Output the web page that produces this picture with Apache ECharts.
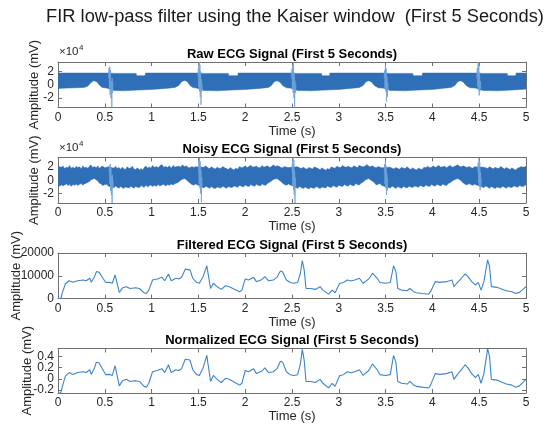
<!DOCTYPE html>
<html>
<head>
<meta charset="utf-8">
<script src="https://cdn.jsdelivr.net/npm/echarts@6/dist/echarts.min.js"></script>
<style>
html, body { margin: 0; padding: 0; background: #fff; }
#chart { width: 554px; height: 424px; }
</style>
</head>
<body>
<div id="chart"></div>
<script>
// ---------- signal data (time in s, amplitude in mV) ----------

// Raw ECG: envelope of the dense mains-like oscillation, plus the QRS bursts
const rawUpper = [
  [0.00, 17500], [0.54, 17500], [0.60, 17000], [0.835, 17000], [0.84, 13500], [0.93, 13500],
  [0.935, 17500], [1.50, 17500], [1.56, 17000], [1.82, 17000], [1.825, 13500], [1.92, 13500],
  [1.925, 17500], [2.50, 17500], [2.56, 17000], [2.815, 17000], [2.82, 13500], [2.90, 13500],
  [2.905, 17500], [3.48, 17500], [3.54, 17000], [3.79, 17000], [3.795, 13500], [3.89, 13500],
  [3.895, 17500], [4.48, 17500], [4.54, 17000], [4.80, 17000], [4.805, 13500], [4.89, 13500],
  [4.895, 17500], [5.00, 17500]
];
const rawLower = [
  [0.00, -5500], [0.10, -5000], [0.20, -4500], [0.28, -4000], [0.32, -2000], [0.35, 3000],
  [0.38, 6000], [0.41, 5000], [0.44, 0], [0.47, -4000], [0.52, -5000],
  [0.60, -8500], [0.70, -9000], [0.85, -8000], [1.00, -7000], [1.15, -5500], [1.25, -4000],
  [1.29, -1000], [1.32, 4500], [1.35, 6500], [1.38, 5000], [1.41, -1000], [1.44, -4000], [1.48, -5000],
  [1.56, -8500], [1.70, -9000], [1.85, -8000], [2.00, -7000], [2.15, -5500], [2.25, -4000],
  [2.28, -1000], [2.31, 4500], [2.34, 6000], [2.37, 4000], [2.40, -1000], [2.44, -4500], [2.48, -5000],
  [2.56, -8500], [2.70, -9000], [2.85, -8000], [3.00, -7000], [3.12, -5500], [3.22, -4000],
  [3.26, -1000], [3.29, 4500], [3.32, 6000], [3.35, 4000], [3.38, -1000], [3.42, -4500], [3.47, -5000],
  [3.55, -8500], [3.70, -9000], [3.85, -8000], [4.00, -7000], [4.10, -5500], [4.20, -4000],
  [4.24, -1000], [4.27, 4500], [4.30, 6000], [4.33, 4000], [4.36, -1000], [4.40, -4500], [4.46, -5000],
  [4.54, -8500], [4.70, -9000], [4.85, -8000], [4.95, -7000], [5.00, -6500]
];
const rawBursts = [
  [[0.540, 10000], [0.545, 25000], [0.549, -5000], [0.553, 27000], [0.557, -15000], [0.561, 22000],
   [0.566, -20000], [0.570, 5000], [0.575, -34000], [0.579, 10000], [0.583, -12000], [0.588, 3000]],
  [[1.495, 12000], [1.500, 26000], [1.504, -4000], [1.508, 33000], [1.512, -10000], [1.516, 30000],
   [1.520, -18000], [1.524, 20000], [1.528, -30000], [1.532, 8000], [1.537, -10000], [1.542, 2000]],
  [[2.495, 10000], [2.500, 24000], [2.504, -6000], [2.508, 30000], [2.512, -12000], [2.516, 34000],
   [2.520, -20000], [2.524, 18000], [2.528, -34000], [2.532, 6000], [2.537, -12000], [2.542, 2000]],
  [[3.485, 10000], [3.490, 22000], [3.494, -5000], [3.498, 29000], [3.502, -10000], [3.506, 25000],
   [3.510, -25000], [3.514, 12000], [3.518, -18000], [3.523, 3000], [3.528, -8000]],
  [[4.475, 10000], [4.480, 25000], [4.484, -3000], [4.488, 34000], [4.492, -8000], [4.496, 30000],
   [4.500, -16000], [4.504, 18000], [4.508, -10000], [4.513, 5000], [4.518, -5000]]
];

// Noisy ECG: ragged envelope of the noise band, plus the QRS bursts
const noisyUpper = [
  [0.00, 19000], [0.02, 20500], [0.035, 18000], [0.05, 21500], [0.07, 17500], [0.09, 19500],
  [0.11, 18500], [0.125, 22000], [0.14, 18000], [0.16, 19500], [0.18, 17500], [0.195, 21000],
  [0.21, 19000], [0.23, 20000], [0.25, 17000], [0.265, 21500], [0.28, 18500], [0.30, 19500],
  [0.32, 18000], [0.335, 20500], [0.35, 23000], [0.37, 19000], [0.39, 20500], [0.41, 18500],
  [0.425, 21500], [0.44, 17500], [0.46, 20000], [0.48, 21000], [0.50, 18500], [0.52, 19500],
  [0.54, 20000], [0.60, 18000], [0.615, 21000], [0.63, 17500], [0.65, 19000], [0.67, 16500],
  [0.685, 19500], [0.70, 17500], [0.72, 16000], [0.74, 20000], [0.76, 17500], [0.78, 18500],
  [0.795, 21000], [0.81, 17000], [0.83, 16000], [0.85, 18500], [0.87, 15500], [0.89, 17500],
  [0.905, 15000], [0.92, 19000], [0.94, 21000], [0.96, 18000], [0.975, 20000], [0.99, 18000],
  [1.01, 22000], [1.03, 19000], [1.05, 20500], [1.07, 18500], [1.09, 21500], [1.11, 23500],
  [1.13, 19500], [1.15, 20500], [1.17, 19000], [1.19, 21500], [1.21, 18000], [1.23, 22000],
  [1.25, 19500], [1.27, 20500], [1.29, 21000], [1.31, 19500], [1.33, 23000], [1.35, 20000],
  [1.37, 21500], [1.39, 19000], [1.41, 18500], [1.43, 20500], [1.45, 19000], [1.47, 20000],
  [1.56, 19500], [1.58, 21500], [1.60, 18500], [1.62, 17500], [1.64, 20000], [1.66, 18000],
  [1.68, 17000], [1.70, 19500], [1.72, 18000], [1.74, 17500], [1.76, 20500], [1.78, 18500],
  [1.80, 17500], [1.82, 16000], [1.84, 19000], [1.86, 17000], [1.88, 15500], [1.90, 18000],
  [1.92, 16500], [1.94, 20500], [1.96, 18500], [1.98, 19500], [2.00, 21500], [2.02, 19000],
  [2.04, 20500], [2.06, 22500], [2.08, 19500], [2.10, 20000], [2.12, 21000], [2.14, 19000],
  [2.16, 18500], [2.18, 22000], [2.20, 19500], [2.22, 20500], [2.24, 21500], [2.26, 19000],
  [2.28, 20000], [2.30, 23000], [2.32, 20500], [2.34, 21500], [2.36, 21000], [2.38, 19000],
  [2.40, 18500], [2.42, 20500], [2.44, 19500], [2.46, 19000], [2.56, 20000], [2.58, 18500],
  [2.60, 17500], [2.62, 19500], [2.64, 17500], [2.66, 16500], [2.68, 19000], [2.70, 18000],
  [2.72, 17000], [2.74, 20000], [2.76, 18500], [2.78, 17500], [2.80, 15500], [2.82, 18500],
  [2.84, 16500], [2.86, 15000], [2.88, 17500], [2.90, 16000], [2.92, 20000], [2.94, 18500],
  [2.96, 18000], [2.98, 21000], [3.00, 19500], [3.02, 19000], [3.04, 22000], [3.06, 20000],
  [3.08, 19500], [3.10, 21000], [3.12, 19500], [3.14, 18500], [3.16, 21500], [3.18, 20000],
  [3.20, 19000], [3.22, 22500], [3.24, 20500], [3.26, 20000], [3.28, 21000], [3.30, 23500],
  [3.32, 21000], [3.34, 20000], [3.36, 21500], [3.38, 19500], [3.40, 18500], [3.42, 20500],
  [3.44, 19500], [3.46, 18500], [3.55, 19500], [3.57, 18000], [3.59, 17000], [3.61, 19000],
  [3.63, 17500], [3.65, 16500], [3.67, 19500], [3.69, 18000], [3.71, 17500], [3.73, 20000],
  [3.75, 17500], [3.77, 16000], [3.79, 18500], [3.81, 16500], [3.83, 15500], [3.85, 18000],
  [3.87, 17000], [3.89, 16000], [3.91, 19500], [3.93, 18500], [3.95, 21000], [3.97, 18500],
  [3.99, 19500], [4.01, 21500], [4.03, 19000], [4.05, 20500], [4.07, 22000], [4.09, 19500],
  [4.11, 20000], [4.13, 21000], [4.15, 18500], [4.17, 20500], [4.19, 22000], [4.21, 19500],
  [4.23, 20000], [4.25, 21500], [4.27, 23000], [4.29, 20500], [4.31, 20000], [4.33, 21500],
  [4.35, 20000], [4.37, 19000], [4.39, 20500], [4.41, 19000], [4.43, 18000], [4.45, 20000],
  [4.55, 19500], [4.57, 18500], [4.59, 17500], [4.61, 20000], [4.63, 18500], [4.65, 17000],
  [4.67, 19500], [4.69, 18000], [4.71, 17500], [4.73, 20500], [4.75, 18500], [4.77, 17000],
  [4.79, 19000], [4.81, 17500], [4.83, 16000], [4.85, 18500], [4.87, 16500], [4.89, 15500],
  [4.91, 18000], [4.93, 19000], [4.95, 20500], [4.97, 19000], [4.99, 20000], [5.00, 21000]
];
const noisyLower = [
  [0.00, -7000], [0.02, -9000], [0.035, -6500], [0.05, -8500], [0.07, -7000], [0.09, -5500],
  [0.11, -8000], [0.125, -6000], [0.14, -9000], [0.16, -6500], [0.18, -7500], [0.195, -5500],
  [0.21, -8000], [0.23, -6000], [0.25, -5000], [0.265, -7500], [0.28, -5500], [0.30, -4500],
  [0.32, -3000], [0.335, -2000], [0.35, 500], [0.37, 1500], [0.39, 2500], [0.41, 500],
  [0.425, -1000], [0.44, -4000], [0.46, -5500], [0.48, -8000], [0.50, -6500], [0.52, -6000],
  [0.54, -9000], [0.60, -11000], [0.615, -8500], [0.63, -10000], [0.65, -12000], [0.67, -9500],
  [0.685, -11000], [0.70, -12500], [0.72, -10000], [0.74, -11000], [0.76, -11500], [0.78, -9000],
  [0.795, -10500], [0.81, -12000], [0.83, -9500], [0.85, -10500], [0.87, -11000], [0.89, -8000],
  [0.905, -9500], [0.92, -10500], [0.94, -7500], [0.96, -10000], [0.975, -8000], [0.99, -7000],
  [1.01, -9500], [1.03, -7500], [1.05, -9000], [1.07, -6500], [1.09, -8500], [1.11, -7000],
  [1.13, -6000], [1.15, -8500], [1.17, -6500], [1.19, -7500], [1.21, -5500], [1.23, -7000],
  [1.25, -5000], [1.27, -4000], [1.29, -2500], [1.31, 0], [1.33, 1500], [1.35, 2500],
  [1.37, 1000], [1.39, -2000], [1.41, -4000], [1.43, -6500], [1.45, -7500], [1.47, -5500],
  [1.56, -11500], [1.58, -9000], [1.60, -10500], [1.62, -12000], [1.64, -9500], [1.66, -11500],
  [1.68, -12500], [1.70, -10000], [1.72, -11000], [1.74, -11500], [1.76, -9000], [1.78, -10500],
  [1.80, -12000], [1.82, -9500], [1.84, -10500], [1.86, -11000], [1.88, -8500], [1.90, -9500],
  [1.92, -10500], [1.94, -7500], [1.96, -9000], [1.98, -10000], [2.00, -7000], [2.02, -8500],
  [2.04, -9500], [2.06, -6500], [2.08, -8000], [2.10, -9000], [2.12, -6000], [2.14, -7500],
  [2.16, -8500], [2.18, -5500], [2.20, -7000], [2.22, -7500], [2.24, -4500], [2.26, -3000],
  [2.28, -1000], [2.30, 1000], [2.32, 2000], [2.34, 2500], [2.36, 500], [2.38, -1500],
  [2.40, -4500], [2.42, -6500], [2.44, -7500], [2.46, -5500], [2.56, -12000], [2.58, -9500],
  [2.60, -11000], [2.62, -12500], [2.64, -10000], [2.66, -11500], [2.68, -13000], [2.70, -10500],
  [2.72, -11500], [2.74, -12000], [2.76, -9500], [2.78, -11000], [2.80, -12500], [2.82, -10000],
  [2.84, -11000], [2.86, -11500], [2.88, -8500], [2.90, -10000], [2.92, -11000], [2.94, -8000],
  [2.96, -9500], [2.98, -10500], [3.00, -7500], [3.02, -8500], [3.04, -9500], [3.06, -6500],
  [3.08, -8000], [3.10, -9000], [3.12, -6000], [3.14, -7500], [3.16, -8500], [3.18, -5000],
  [3.20, -6500], [3.22, -7000], [3.24, -4000], [3.26, -2500], [3.28, 0], [3.30, 1500],
  [3.32, 2500], [3.34, 500], [3.36, -1500], [3.38, -3500], [3.40, -7000], [3.42, -6000],
  [3.44, -5000], [3.46, -8000], [3.55, -11500], [3.57, -9000], [3.59, -10500], [3.61, -12500],
  [3.63, -9500], [3.65, -11000], [3.67, -12000], [3.69, -9500], [3.71, -10500], [3.73, -11500],
  [3.75, -9000], [3.77, -10000], [3.79, -11000], [3.81, -8500], [3.83, -9500], [3.85, -10500],
  [3.87, -8000], [3.89, -9000], [3.91, -10000], [3.93, -7000], [3.95, -8500], [3.97, -9500],
  [3.99, -6500], [4.01, -8000], [4.03, -9000], [4.05, -6000], [4.07, -7500], [4.09, -8500],
  [4.11, -5500], [4.13, -7000], [4.15, -8000], [4.17, -5000], [4.19, -3500], [4.21, -1500],
  [4.23, 500], [4.25, 1500], [4.27, 2500], [4.29, 1000], [4.31, -1000], [4.33, -4000],
  [4.35, -6000], [4.37, -7000], [4.39, -5000], [4.41, -6500], [4.43, -7500], [4.45, -6000],
  [4.55, -11000], [4.57, -8500], [4.59, -10000], [4.61, -12000], [4.63, -9500], [4.65, -11000],
  [4.67, -12500], [4.69, -10000], [4.71, -11000], [4.73, -11500], [4.75, -9000], [4.77, -10500],
  [4.79, -12000], [4.81, -9500], [4.83, -10500], [4.85, -11000], [4.87, -8500], [4.89, -9500],
  [4.91, -10500], [4.93, -8000], [4.95, -9000], [4.97, -9500], [4.99, -7500], [5.00, -7000]
];
const noisyBursts = [
  [[0.545, 12000], [0.550, 22000], [0.554, -6000], [0.558, 24000], [0.562, -16000], [0.566, 18000],
   [0.570, -22000], [0.574, 6000], [0.578, -34000], [0.582, 8000], [0.586, -12000], [0.590, 0]],
  [[1.500, 14000], [1.504, 30000], [1.508, -5000], [1.512, 33000], [1.516, -12000], [1.520, 28000],
   [1.524, -20000], [1.528, 15000], [1.532, -33000], [1.536, 5000], [1.540, -9000]],
  [[2.500, 12000], [2.504, 26000], [2.508, -8000], [2.512, 33000], [2.516, -14000], [2.520, 30000],
   [2.524, -22000], [2.528, 14000], [2.532, -34000], [2.536, 4000], [2.540, -10000]],
  [[3.485, 12000], [3.490, 24000], [3.494, -6000], [3.498, 29000], [3.502, -12000], [3.506, 22000],
   [3.510, -22000], [3.514, 10000], [3.518, -15000], [3.523, 2000]],
  [[4.485, 12000], [4.490, 26000], [4.494, -4000], [4.498, 33000], [4.502, -9000], [4.506, 27000],
   [4.510, -15000], [4.514, 12000], [4.518, -8000], [4.523, 3000]]
];

// Filtered and normalized signals share one time base
const filteredTime = [
  0, 0.03, 0.05, 0.08, 0.12, 0.16, 0.21, 0.27, 0.30, 0.34,
  0.355, 0.39, 0.41, 0.44, 0.48, 0.51, 0.55, 0.58, 0.61, 0.63,
  0.655, 0.69, 0.73, 0.77, 0.83, 0.87, 0.92, 0.945, 0.97, 1.01,
  1.06, 1.11, 1.14, 1.18, 1.21, 1.26, 1.29, 1.32, 1.36, 1.41,
  1.44, 1.48, 1.51, 1.55, 1.59, 1.60, 1.63, 1.66, 1.70, 1.745,
  1.79, 1.83, 1.89, 1.94, 1.965, 2.00, 2.035, 2.09, 2.12, 2.18,
  2.21, 2.25, 2.30, 2.34, 2.376, 2.40, 2.44, 2.48, 2.52, 2.56,
  2.59, 2.61, 2.63, 2.65, 2.70, 2.75, 2.80, 2.83, 2.89, 2.93,
  2.96, 3.01, 3.05, 3.09, 3.13, 3.17, 3.22, 3.26, 3.32, 3.36,
  3.41, 3.44, 3.50, 3.55, 3.585, 3.61, 3.63, 3.67, 3.73, 3.76,
  3.80, 3.83, 3.89, 3.96, 3.98, 4.03, 4.08, 4.15, 4.21, 4.23,
  4.26, 4.31, 4.35, 4.38, 4.42, 4.46, 4.49, 4.52, 4.55, 4.59,
  4.61, 4.63, 4.69, 4.75, 4.79, 4.85, 4.89, 4.93, 4.97, 5.00
];
const filteredValues = [
  0, 0, 3000, 6500, 7800, 7100, 7800, 8100, 7800, 8900,
  7100, 9600, 11800, 11500, 8900, 7000, 7100, 6700, 10400, 10000,
  2700, 4700, 5200, 4400, 4700, 4400, 2500, 2200, 3700, 8100,
  8600, 9300, 7800, 10800, 7800, 8900, 8600, 9300, 12900, 12600,
  8900, 7100, 6700, 9600, 14400, 11800, 4400, 6700, 5200, 4000,
  5600, 5200, 4000, 3000, 3700, 8600, 8100, 9300, 7400, 8400,
  9600, 7800, 8100, 9300, 12100, 11800, 8100, 7000, 6700, 7000,
  11100, 16700, 12600, 4400, 4400, 4000, 5200, 3700, 1900, 3700,
  2500, 6700, 7000, 8100, 7700, 8100, 8900, 6700, 8600, 11100,
  8900, 7000, 6700, 7000, 14400, 11800, 4400, 3700, 3400, 4400,
  3000, 2500, 2200, 1900, 3000, 7400, 7100, 7400, 8100, 5200,
  6700, 8900, 10800, 9600, 7400, 5900, 7100, 3700, 7400, 17000,
  14100, 5200, 4900, 4000, 3400, 3000, 2200, 2700, 4100, 5200
];
const normalizedValues = [
  -0.254, -0.254, -0.113, 0.052, 0.113, 0.080, 0.113, 0.127, 0.113, 0.164,
  0.080, 0.197, 0.300, 0.286, 0.164, 0.075, 0.080, 0.061, 0.235, 0.216,
  -0.127, -0.033, -0.009, -0.047, -0.033, -0.047, -0.136, -0.150, -0.080, 0.127,
  0.150, 0.183, 0.113, 0.254, 0.113, 0.164, 0.150, 0.183, 0.352, 0.338,
  0.164, 0.080, 0.061, 0.197, 0.423, 0.300, -0.047, 0.061, -0.009, -0.066,
  0.009, -0.009, -0.066, -0.113, -0.080, 0.150, 0.127, 0.183, 0.094, 0.141,
  0.197, 0.113, 0.127, 0.183, 0.315, 0.300, 0.127, 0.075, 0.061, 0.075,
  0.268, 0.531, 0.338, -0.047, -0.047, -0.066, -0.009, -0.080, -0.164, -0.080,
  -0.136, 0.061, 0.075, 0.127, 0.108, 0.127, 0.164, 0.061, 0.150, 0.268,
  0.164, 0.075, 0.061, 0.075, 0.423, 0.300, -0.047, -0.080, -0.094, -0.047,
  -0.113, -0.136, -0.150, -0.164, -0.113, 0.094, 0.080, 0.094, 0.127, -0.009,
  0.061, 0.164, 0.254, 0.197, 0.094, 0.023, 0.080, -0.080, 0.094, 0.545,
  0.408, -0.009, -0.023, -0.066, -0.094, -0.113, -0.150, -0.127, -0.061, -0.009
];

// Axis ticks
const timeRange = [0, 5];
const timeStep = 0.5;
const bigAmpTicks = [-20000, 0, 20000];
const filteredTicks = [0, 10000, 20000];
const normalizedTicks = [-0.2, 0, 0.2, 0.4];

const panelTitles = [
  'Raw ECG Signal (First 5 Seconds)',
  'Noisy ECG Signal (First 5 Seconds)',
  'Filtered ECG Signal (First 5 Seconds)',
  'Normalized ECG Signal (First 5 Seconds)'
];
const mainTitle = 'FIR low-pass filter using the Kaiser window  (First 5 Seconds)';

// ---------- layout & styles ----------
const FONT = '"Liberation Sans", Arial, Helvetica, sans-serif';
const AXIS_COLOR = '#707070';
const TEXT_COLOR = '#262626';
const BAND_COLOR = '#2e6fb8';
const BURST_COLOR = '#6fa3da';
const LINE_COLOR = '#3c84cc';
const PLOT_LEFT = 58, PLOT_RIGHT = 28, PLOT_H = 45.5;
const panelTops = [62, 157.5, 253, 348.5];
const plotCenterX = PLOT_LEFT + (554 - PLOT_LEFT - PLOT_RIGHT) / 2;

const yRanges = [
  { min: -34000, max: 34000, ticks: bigAmpTicks, fmt: v => String(v / 10000), gap: 17 },
  { min: -34000, max: 34000, ticks: bigAmpTicks, fmt: v => String(v / 10000), gap: 17 },
  { min: 0, max: 20000, ticks: filteredTicks, fmt: v => String(v), gap: 35 },
  { min: -0.255, max: 0.546, ticks: normalizedTicks, fmt: v => String(v), gap: 24 }
];

const tickStyle = { inside: true, length: 4, lineStyle: { color: AXIS_COLOR, width: 1 } };
const lineStyleAxis = { show: true, onZero: false, lineStyle: { color: AXIS_COLOR, width: 1 } };
const yLabelStyle = {
  margin: 4, color: TEXT_COLOR, fontSize: 12, fontFamily: FONT,
  hideOverlap: false, showMinLabel: true, showMaxLabel: true
};

const grids = [], xAxes = [], yAxes = [], series = [];
// Closely spaced tick labels are split over two overlaid axes so none gets dropped
const extraLabelAxes = [];

panelTops.forEach((top, g) => {
  grids.push({ left: PLOT_LEFT, right: PLOT_RIGHT, top: top, height: PLOT_H, containLabel: false });
  const xBase = {
    type: 'value', gridIndex: g, min: timeRange[0], max: timeRange[1], interval: timeStep,
    axisLine: lineStyleAxis, axisTick: tickStyle, splitLine: { show: false }
  };
  xAxes.push(Object.assign({}, xBase, {
    position: 'bottom',
    axisLabel: {
      margin: 4, color: TEXT_COLOR, fontSize: 12, fontFamily: FONT,
      hideOverlap: false, alignMinLabel: 'center', alignMaxLabel: 'center',
      showMinLabel: true, showMaxLabel: true
    },
    name: 'Time (s)', nameLocation: 'middle', nameGap: 17, nameMoveOverlap: false,
    nameTextStyle: { color: TEXT_COLOR, fontSize: 13, fontFamily: FONT }
  }));
  xAxes.push(Object.assign({}, xBase, { position: 'top', axisLabel: { show: false } }));

  const r = yRanges[g];
  const yBase = {
    type: 'value', gridIndex: g, min: r.min, max: r.max,
    axisLine: lineStyleAxis,
    axisTick: Object.assign({}, tickStyle, { customValues: r.ticks }),
    splitLine: { show: false }
  };
  const dense = r.ticks.length > 3;
  const mainLabels = dense ? r.ticks.filter((v, i) => i % 2 === 0) : r.ticks;
  yAxes.push(Object.assign({}, yBase, {
    position: 'left',
    axisLabel: Object.assign({}, yLabelStyle, { customValues: mainLabels, formatter: r.fmt }),
    name: 'Amplitude (mV)', nameLocation: 'middle', nameGap: r.gap, nameMoveOverlap: false,
    nameTextStyle: { color: TEXT_COLOR, fontSize: 13, fontFamily: FONT }
  }));
  yAxes.push(Object.assign({}, yBase, { position: 'right', axisLabel: { show: false } }));
  if (dense) {
    extraLabelAxes.push({
      type: 'value', gridIndex: g, min: r.min, max: r.max, position: 'left', offset: 0,
      axisLine: { show: false }, axisTick: { show: false }, splitLine: { show: false },
      axisLabel: Object.assign({}, yLabelStyle, {
        customValues: r.ticks.filter((v, i) => i % 2 === 1), formatter: r.fmt
      })
    });
  }
});
yAxes.push(...extraLabelAxes);

// Band drawn as a polygon between the upper and lower envelopes
function bandSeries(upper, lower, axisIndex) {
  return {
    type: 'custom', xAxisIndex: axisIndex, yAxisIndex: axisIndex, clip: true, silent: true,
    data: [upper[0]],
    renderItem: function (params, api) {
      const pts = upper.map(p => api.coord(p))
        .concat(lower.slice().reverse().map(p => api.coord(p)));
      return { type: 'polygon', shape: { points: pts },
        style: { fill: BAND_COLOR, stroke: BAND_COLOR, lineWidth: 0.5 } };
    }
  };
}
function burstSeries(points, axisIndex) {
  return {
    type: 'line', xAxisIndex: axisIndex, yAxisIndex: axisIndex, data: points,
    showSymbol: false, silent: true, clip: true,
    lineStyle: { color: BURST_COLOR, width: 0.8 }
  };
}

series.push(bandSeries(rawUpper, rawLower, 0));
rawBursts.forEach(b => series.push(burstSeries(b, 0)));
series.push(bandSeries(noisyUpper, noisyLower, 2));
noisyBursts.forEach(b => series.push(burstSeries(b, 2)));
series.push({
  type: 'line', xAxisIndex: 4, yAxisIndex: 4, showSymbol: false, silent: true, clip: true,
  data: filteredTime.map((t, i) => [t, filteredValues[i]]),
  lineStyle: { color: LINE_COLOR, width: 1.1 }
});
series.push({
  type: 'line', xAxisIndex: 6, yAxisIndex: 6, showSymbol: false, silent: true, clip: true,
  data: filteredTime.map((t, i) => [t, normalizedValues[i]]),
  lineStyle: { color: LINE_COLOR, width: 1.1 }
});

// Figure title, panel titles and the exponent markers
const graphics = [{
  type: 'text', x: 295, y: 17,
  style: { text: mainTitle, font: 'normal 18.3px ' + FONT, fill: '#1a1a1a', textAlign: 'center', textVerticalAlign: 'middle' }
}];
panelTops.forEach((top, g) => {
  graphics.push({
    type: 'text', x: plotCenterX, y: top - 8,
    style: { text: panelTitles[g], font: 'bold 13px ' + FONT, fill: '#000', textAlign: 'center', textVerticalAlign: 'middle' }
  });
  if (g < 2) {
    graphics.push({
      type: 'text', x: PLOT_LEFT + 1, y: top - 10,
      style: { text: '×10', font: 'normal 11.5px ' + FONT, fill: TEXT_COLOR, textAlign: 'left', textVerticalAlign: 'middle' }
    });
    graphics.push({
      type: 'text', x: PLOT_LEFT + 21, y: top - 14,
      style: { text: '4', font: 'normal 8px ' + FONT, fill: TEXT_COLOR, textAlign: 'left', textVerticalAlign: 'middle' }
    });
  }
});

const chart = echarts.init(document.getElementById('chart'), null, { renderer: 'canvas' });
chart.setOption({
  animation: false,
  backgroundColor: '#ffffff',
  grid: grids,
  xAxis: xAxes,
  yAxis: yAxes,
  series: series,
  graphic: graphics
});
</script>
</body>
</html>
